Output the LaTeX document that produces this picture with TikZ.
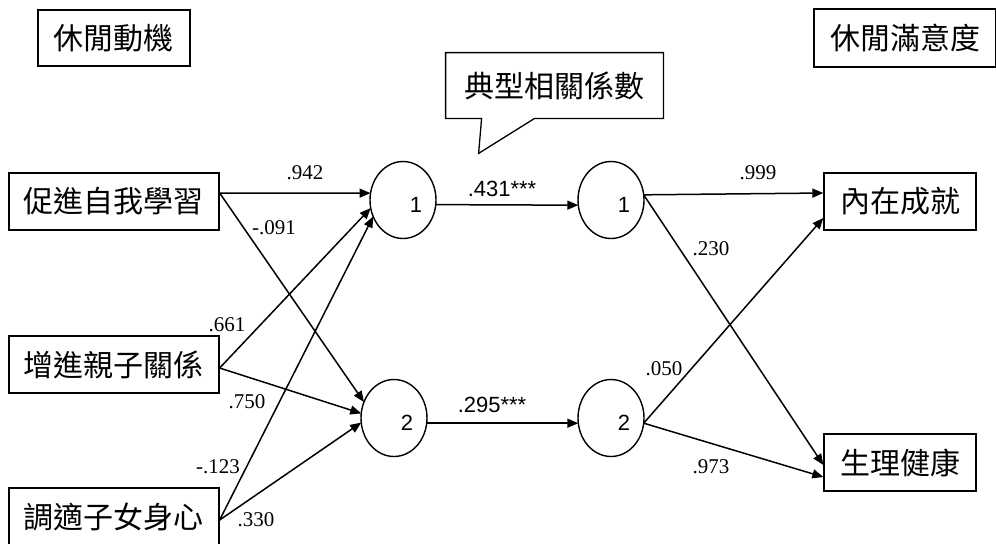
\documentclass[tikz,border=0pt]{standalone}
\usepackage{fontspec}
\setmainfont{Liberation Serif}
\newfontfamily\cjk{Noto Sans CJK TC}
\newfontfamily\arial{Liberation Sans}
\usepackage{tikz}
\usetikzlibrary{arrows.meta, calc, shapes.geometric}

\tikzset{
	varbox/.style={draw, line width=0.65pt, minimum width=105pt, minimum height=28.5pt, inner sep=0pt, font=\cjk\fontsize{15}{18}\selectfont},
	canon/.style={draw, ellipse, line width=0.7pt, minimum width=33pt, minimum height=38.5pt, inner sep=0pt, outer sep=0pt},
	cnum/.style={label={[font=\arial\fontsize{11}{12}\selectfont, xshift=6.5pt, yshift=-2.5pt]center:#1}},
	link/.style={line width=0.75pt, -{Triangle[length=5.5pt, width=4.5pt]}},
	coef/.style={font=\fontsize{10.5}{12}\selectfont, inner sep=0pt},
	rcoef/.style={font=\arial\fontsize{11}{13}\selectfont, inner sep=0pt},
}

\begin{document}
\begin{tikzpicture}[x=0.5pt, y=-0.5pt]

	\useasboundingbox (0,0) rectangle (996,543);

	% headings
	\node[varbox, minimum width=76pt, minimum height=28pt] (motive) at (114,38) {休閒動機};
	\node[varbox, minimum width=91pt, minimum height=29pt] (satis) at (905,38) {休閒滿意度};

	\node[font=\cjk\fontsize{15}{18}\selectfont, minimum width=108.5pt, minimum height=32.5pt, inner sep=0pt] (rc) at (554.5,85.5) {典型相關係數};
	\draw[line width=0.65pt] (rc.south west) -- (rc.north west) -- (rc.north east) -- (rc.south east) -- ($ (rc.south west)+(89,0) $) -- ($ (rc.south west)+(33,35) $) -- ($ (rc.south west)+(36,0) $) -- cycle;

	% variables
	\node[varbox] (learn) at (114,201.5) {促進自我學習};
	\node[varbox] (family) at (114,364.5) {增進親子關係};
	\node[varbox] (adjust) at (114,516.5) {調適子女身心};
	\node[varbox, minimum width=76pt] (inner) at (900,201.5) {內在成就};
	\node[varbox, minimum width=76pt] (health) at (900,462.5) {生理健康};

	% canonical variates
	\node[canon, cnum=1] (x1) at (403,200) {};
	\node[canon, cnum=2] (x2) at (394,418) {};
	\node[canon, cnum=1] (y1) at (611,200) {};
	\node[canon, cnum=2] (y2) at (611,418) {};

	\draw[link] ($ (learn.east)+(0,-8.5) $) -- (x1.168);
	\draw[link] ($ (learn.east)+(0,-8.5) $) -- (x2.152);
	\draw[link] ($ (family.east)+(0,3.5) $) -- (x1.194);
	\draw[link] ($ (family.east)+(0,3.5) $) -- (x2.172);
	\draw[link] ($ (adjust.east)+(0,3.5) $) -- (x1.209);
	\draw[link] ($ (adjust.east)+(0,3.5) $) -- (x2.188);

	\draw[link] (x1.352) -- (y1.189);
	\draw[link] (x2.351) -- (y2.189);

	\draw[link] (y1.9) -- ($ (inner.west)+(0,-8.5) $);
	\draw[link] (y1.9) -- ($ (health.west)+(0,2.5) $);
	\draw[link] (y2.351) -- ($ (inner.west)+(0,16.5) $);
	\draw[link] (y2.351) -- ($ (health.west)+(0,14.5) $);

	% loadings
	\node[coef] (w1) at (305,173) {.942};
	\node[coef] (w2) at (274,228) {-.091};
	\node[coef] (w3) at (227,325) {.661};
	\node[coef] (w4) at (247,402) {.750};
	\node[coef] (w5) at (218,467) {-.123};
	\node[coef] (w6) at (256,520) {.330};
	\node[rcoef] (r1) at (502,189) {.431***};
	\node[rcoef] (r2) at (492,405) {.295***};
	\node[coef] (v1) at (758,173) {.999};
	\node[coef] (v2) at (711,249) {.230};
	\node[coef] (v3) at (664,369) {.050};
	\node[coef] (v4) at (711,467) {.973};

\end{tikzpicture}
\end{document}
